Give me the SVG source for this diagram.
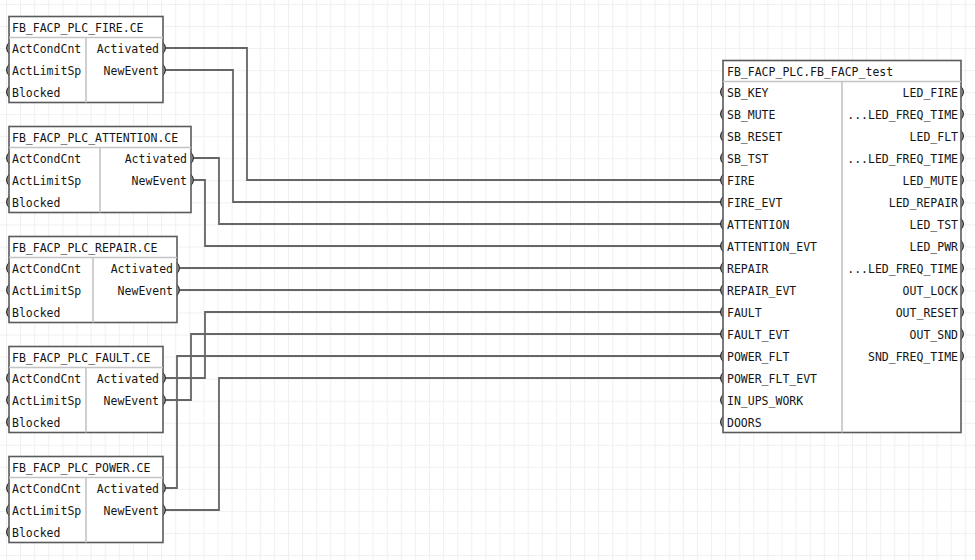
<svg xmlns="http://www.w3.org/2000/svg" width="975" height="560" viewBox="0 0 975 560">
<style>
.box{fill:#fff;stroke:#5a5a5a;stroke-width:1.6}
.sep{stroke:#c4c4c4;stroke-width:1.6}
.div{stroke:#c4c4c4;stroke-width:1.6}
text{font-family:"DejaVu Sans Mono","Liberation Mono",monospace;font-size:11.5px;fill:#151515}
.r{text-anchor:end}
.pin{fill:#1a1a1a}
.wire{fill:none;stroke:#666;stroke-width:1.8}
</style>
<defs>
<pattern id="grid" patternUnits="userSpaceOnUse" x="6" y="4" width="14.1" height="22.04">
<path d="M0,0 V22.04 M0,0 H14.1" fill="none" stroke="#f0f0f0" stroke-width="2"/>
</pattern>
<path id="pin-in" d="M0,-6 Q-6,0 0,6 Q-3,0 0,-6 Z"/>
<path id="pin-out" d="M0,-6 Q6,0 0,6 Q3,0 0,-6 Z"/>
</defs>
<rect width="975" height="560" fill="#fff"/>
<rect width="975" height="560" fill="url(#grid)"/>

<g id="connectors">
<path class="wire" d="M166,48 H247 V180 H721"/>
<path class="wire" d="M166,70 H233 V202 H721"/>
<path class="wire" d="M194,158 H219 V224 H721"/>
<path class="wire" d="M194,180 H205 V246 H721"/>
<path class="wire" d="M180,268 H721"/>
<path class="wire" d="M180,290 H721"/>
<path class="wire" d="M166,378 H205 V312 H721"/>
<path class="wire" d="M166,400 H191 V334 H721"/>
<path class="wire" d="M166,488 H177 V356 H721"/>
<path class="wire" d="M166,510 H219 V378 H721"/>
</g>

<g id="fire">
<rect class="box" x="9" y="16.5" width="154" height="86"/>
<line class="sep" x1="9" y1="37.5" x2="163" y2="37.5"/>
<line class="div" x1="86" y1="37.5" x2="86" y2="102.5"/>
<text x="12" y="32">FB_FACP_PLC_FIRE.CE</text>
<text x="12" y="53">ActCondCnt</text>
<text x="12" y="75">ActLimitSp</text>
<text x="12" y="97">Blocked</text>
<text class="r" x="159" y="53">Activated</text>
<text class="r" x="159" y="75">NewEvent</text>
<use class="pin" href="#pin-in" x="9" y="48"/><use class="pin" href="#pin-in" x="9" y="70"/><use class="pin" href="#pin-in" x="9" y="92"/>
<use class="pin" href="#pin-out" x="163" y="48"/><use class="pin" href="#pin-out" x="163" y="70"/>
</g>

<g id="attention">
<rect class="box" x="9" y="126.5" width="182" height="86"/>
<line class="sep" x1="9" y1="147.5" x2="191" y2="147.5"/>
<line class="div" x1="100" y1="147.5" x2="100" y2="212.5"/>
<text x="12" y="142">FB_FACP_PLC_ATTENTION.CE</text>
<text x="12" y="163">ActCondCnt</text>
<text x="12" y="185">ActLimitSp</text>
<text x="12" y="207">Blocked</text>
<text class="r" x="187" y="163">Activated</text>
<text class="r" x="187" y="185">NewEvent</text>
<use class="pin" href="#pin-in" x="9" y="158"/><use class="pin" href="#pin-in" x="9" y="180"/><use class="pin" href="#pin-in" x="9" y="202"/>
<use class="pin" href="#pin-out" x="191" y="158"/><use class="pin" href="#pin-out" x="191" y="180"/>
</g>

<g id="repair">
<rect class="box" x="9" y="236.5" width="168" height="86"/>
<line class="sep" x1="9" y1="257.5" x2="177" y2="257.5"/>
<line class="div" x1="93" y1="257.5" x2="93" y2="322.5"/>
<text x="12" y="252">FB_FACP_PLC_REPAIR.CE</text>
<text x="12" y="273">ActCondCnt</text>
<text x="12" y="295">ActLimitSp</text>
<text x="12" y="317">Blocked</text>
<text class="r" x="173" y="273">Activated</text>
<text class="r" x="173" y="295">NewEvent</text>
<use class="pin" href="#pin-in" x="9" y="268"/><use class="pin" href="#pin-in" x="9" y="290"/><use class="pin" href="#pin-in" x="9" y="312"/>
<use class="pin" href="#pin-out" x="177" y="268"/><use class="pin" href="#pin-out" x="177" y="290"/>
</g>

<g id="fault">
<rect class="box" x="9" y="346.5" width="154" height="86"/>
<line class="sep" x1="9" y1="367.5" x2="163" y2="367.5"/>
<line class="div" x1="86" y1="367.5" x2="86" y2="432.5"/>
<text x="12" y="362">FB_FACP_PLC_FAULT.CE</text>
<text x="12" y="383">ActCondCnt</text>
<text x="12" y="405">ActLimitSp</text>
<text x="12" y="427">Blocked</text>
<text class="r" x="159" y="383">Activated</text>
<text class="r" x="159" y="405">NewEvent</text>
<use class="pin" href="#pin-in" x="9" y="378"/><use class="pin" href="#pin-in" x="9" y="400"/><use class="pin" href="#pin-in" x="9" y="422"/>
<use class="pin" href="#pin-out" x="163" y="378"/><use class="pin" href="#pin-out" x="163" y="400"/>
</g>

<g id="power">
<rect class="box" x="9" y="456.5" width="154" height="86"/>
<line class="sep" x1="9" y1="477.5" x2="163" y2="477.5"/>
<line class="div" x1="86" y1="477.5" x2="86" y2="542.5"/>
<text x="12" y="472">FB_FACP_PLC_POWER.CE</text>
<text x="12" y="493">ActCondCnt</text>
<text x="12" y="515">ActLimitSp</text>
<text x="12" y="537">Blocked</text>
<text class="r" x="159" y="493">Activated</text>
<text class="r" x="159" y="515">NewEvent</text>
<use class="pin" href="#pin-in" x="9" y="488"/><use class="pin" href="#pin-in" x="9" y="510"/><use class="pin" href="#pin-in" x="9" y="532"/>
<use class="pin" href="#pin-out" x="163" y="488"/><use class="pin" href="#pin-out" x="163" y="510"/>
</g>

<g id="fb_facp_test">
<rect class="box" x="723" y="60.5" width="238" height="372"/>
<line class="sep" x1="723" y1="81.5" x2="961" y2="81.5"/>
<line class="div" x1="842" y1="81.5" x2="842" y2="432.5"/>
<text x="727" y="76">FB_FACP_PLC.FB_FACP_test</text>
<text x="727" y="97">SB_KEY</text>
<text x="727" y="119">SB_MUTE</text>
<text x="727" y="141">SB_RESET</text>
<text x="727" y="163">SB_TST</text>
<text x="727" y="185">FIRE</text>
<text x="727" y="207">FIRE_EVT</text>
<text x="727" y="229">ATTENTION</text>
<text x="727" y="251">ATTENTION_EVT</text>
<text x="727" y="273">REPAIR</text>
<text x="727" y="295">REPAIR_EVT</text>
<text x="727" y="317">FAULT</text>
<text x="727" y="339">FAULT_EVT</text>
<text x="727" y="361">POWER_FLT</text>
<text x="727" y="383">POWER_FLT_EVT</text>
<text x="727" y="405">IN_UPS_WORK</text>
<text x="727" y="427">DOORS</text>
<text class="r" x="958" y="97">LED_FIRE</text>
<text class="r" x="958" y="119">...LED_FREQ_TIME</text>
<text class="r" x="958" y="141">LED_FLT</text>
<text class="r" x="958" y="163">...LED_FREQ_TIME</text>
<text class="r" x="958" y="185">LED_MUTE</text>
<text class="r" x="958" y="207">LED_REPAIR</text>
<text class="r" x="958" y="229">LED_TST</text>
<text class="r" x="958" y="251">LED_PWR</text>
<text class="r" x="958" y="273">...LED_FREQ_TIME</text>
<text class="r" x="958" y="295">OUT_LOCK</text>
<text class="r" x="958" y="317">OUT_RESET</text>
<text class="r" x="958" y="339">OUT_SND</text>
<text class="r" x="958" y="361">SND_FREQ_TIME</text>
<use class="pin" href="#pin-in" x="723" y="92"/><use class="pin" href="#pin-in" x="723" y="114"/><use class="pin" href="#pin-in" x="723" y="136"/><use class="pin" href="#pin-in" x="723" y="158"/>
<use class="pin" href="#pin-in" x="723" y="180"/><use class="pin" href="#pin-in" x="723" y="202"/><use class="pin" href="#pin-in" x="723" y="224"/><use class="pin" href="#pin-in" x="723" y="246"/>
<use class="pin" href="#pin-in" x="723" y="268"/><use class="pin" href="#pin-in" x="723" y="290"/><use class="pin" href="#pin-in" x="723" y="312"/><use class="pin" href="#pin-in" x="723" y="334"/>
<use class="pin" href="#pin-in" x="723" y="356"/><use class="pin" href="#pin-in" x="723" y="378"/><use class="pin" href="#pin-in" x="723" y="400"/><use class="pin" href="#pin-in" x="723" y="422"/>
<use class="pin" href="#pin-out" x="961" y="92"/><use class="pin" href="#pin-out" x="961" y="114"/><use class="pin" href="#pin-out" x="961" y="136"/><use class="pin" href="#pin-out" x="961" y="158"/>
<use class="pin" href="#pin-out" x="961" y="180"/><use class="pin" href="#pin-out" x="961" y="202"/><use class="pin" href="#pin-out" x="961" y="224"/><use class="pin" href="#pin-out" x="961" y="246"/>
<use class="pin" href="#pin-out" x="961" y="268"/><use class="pin" href="#pin-out" x="961" y="290"/><use class="pin" href="#pin-out" x="961" y="312"/><use class="pin" href="#pin-out" x="961" y="334"/>
<use class="pin" href="#pin-out" x="961" y="356"/>
</g>
</svg>
